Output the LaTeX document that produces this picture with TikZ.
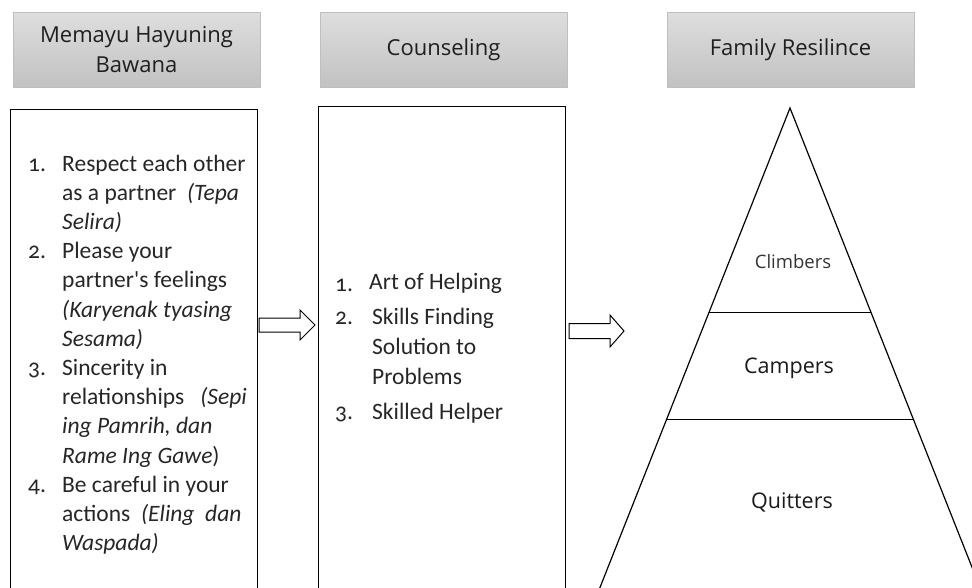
\documentclass[tikz,border=0pt]{standalone}
\usepackage{fontspec}
\setmainfont{Carlito}[Numbers=OldStyle]
\newfontfamily\hdfont{Open Sans}
\begin{document}
\begin{tikzpicture}[x=1pt,y=-1pt,
  hdr/.style={draw=black!25, top color=black!13, bottom color=black!24,
    minimum width=247pt, minimum height=75pt, inner sep=0pt, align=center,
    font=\hdfont\fontsize{22}{30}\selectfont, text=black!88},
  panel/.style={draw=black, line width=1.2pt, minimum width=247pt,
    minimum height=520pt, anchor=north west, inner sep=0pt},
  body/.style={font=\fontsize{23.5}{29}\selectfont, anchor=base west,
    inner sep=0pt, text=black!85},
  blockarrow/.style={draw=black, line width=1pt, fill=white},
  tri/.style={draw=black, line width=1.2pt},
  tier/.style={draw=black, line width=0.8pt},
  lvl/.style={font=\hdfont\fontsize{21.5}{25}\selectfont, text=black!90}]
\useasboundingbox (0,0) rectangle (972,587);
\clip (0,0) rectangle (972,587);

% headers
\node[hdr] (h1) at (136.5,49.5) {Memayu Hayuning\\Bawana};
\node[hdr] (h2) at (443.5,49.5) {Counseling};
\node[hdr] (h3) at (790.5,49.5) {Family Resilince};

% panels
\node[panel] (lbox) at (10,109) {};
\node[panel] (mbox) at (318,106) {};

% left panel text
\foreach \t [count=\i] in {
  {Respect each other},
  {as a partner\ \ \textit{(Tepa}},
  {\textit{Selira)}},
  {Please your},
  {partner\textquotesingle s feelings},
  {\textit{(Karyenak tyasing}},
  {\textit{Sesama)}},
  {Sincerity in},
  {relationships\ \ \ \textit{(Sepi}},
  {\textit{ing Pamrih, dan}},
  {\textit{Rame Ing Gawe})},
  {Be careful in your},
  {actions\ \ \textit{(Eling\ \ dan}},
  {\textit{Waspada)}}}
  \node[body] (L\i) at (62,{171+29.2*(\i-1)}) {\t};
\node[body] (n1) at (28,171) {1.};
\node[body] (n2) at (28,{171+29.2*3}) {2.};
\node[body] (n3) at (28,{171+29.2*7}) {3.};
\node[body] (n4) at (28,{171+29.2*11}) {4.};

% middle panel text
\node[body] (m1) at (369,289) {Art of Helping};
\node[body] (m2) at (372,324) {Skills Finding};
\node[body] (m3) at (372,354) {Solution to};
\node[body] (m4) at (372,384) {Problems};
\node[body] (m5) at (372,419) {Skilled Helper};
\node[body] (k1) at (335,291) {1.};
\node[body] (k2) at (335,324) {2.};
\node[body] (k3) at (335,419) {3.};

% block arrows
\coordinate (a1s) at (259,325);
\coordinate (a1e) at (315,325);
\path[blockarrow] (a1s) ++(0,-7) -- ++(41,0) -- ++(0,-8) -- (a1e)
  -- ++(-15,15) -- ++(0,-8) -- ++(-41,0) -- cycle;
\coordinate (a2s) at (569,331);
\coordinate (a2e) at (624,331);
\path[blockarrow] (a2s) ++(0,-7.5) -- ++(41,0) -- ++(0,-8.5) -- (a2e)
  -- ++(-14,16) -- ++(0,-8.5) -- ++(-41,0) -- cycle;

% pyramid
\coordinate (apex) at (790,108);
\coordinate (bl) at (595,600);
\coordinate (br) at (985,600);
\draw[tri] (bl) -- (apex) -- (br);
\coordinate (t1l) at (709.2,312);
\coordinate (t1r) at (870.8,312);
\coordinate (t2l) at (667.3,419);
\coordinate (t2r) at (912.7,419);
\draw[tier] (t1l) -- (t1r);
\draw[tier] (t2l) -- (t2r);
\node[lvl, font=\hdfont\fontsize{18.5}{22}\selectfont, text=black!80] (c1) at (793,262) {Climbers};
\node[lvl] (c2) at (789,368) {Campers};
\node[lvl] (c3) at (792,502) {Quitters};
\end{tikzpicture}
\end{document}
